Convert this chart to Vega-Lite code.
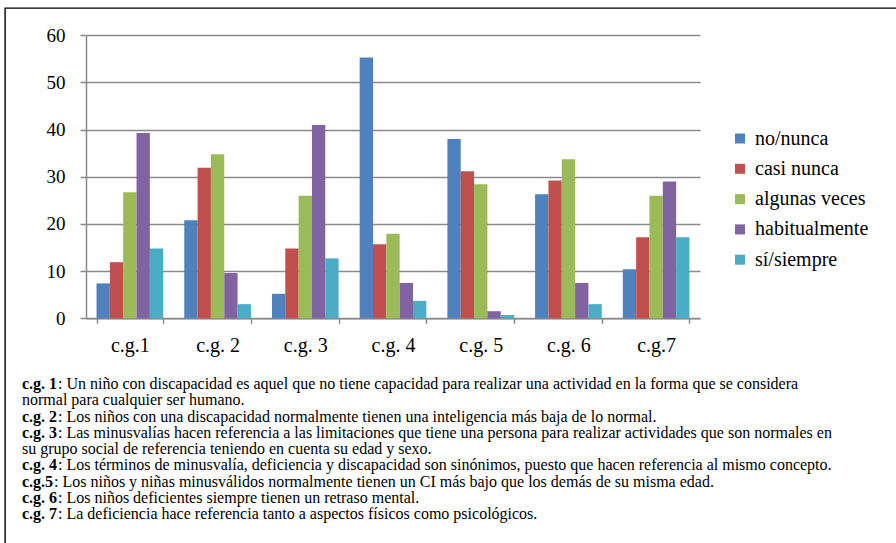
{
  "$schema": "https://vega.github.io/schema/vega-lite/v6.json",
  "width": 891,
  "height": 535,
  "autosize": {"type": "none"},
  "padding": {"left": 5, "top": 8, "right": 0, "bottom": 0},
  "background": "white",
  "config": {
    "view": {"stroke": "black", "strokeWidth": 1.4, "strokeDash": [891, 1426, 535, 20]},
    "font": "Liberation Serif",
    "axis": {"labelFont": "Liberation Serif"},
    "legend": {"labelFont": "Liberation Serif"},
    "text": {"font": "Liberation Serif"}
  },
  "datasets": {
    "bars": [
      {"cg": "c.g.1", "resp": "no/nunca", "value": 7.4},
      {"cg": "c.g.1", "resp": "casi nunca", "value": 11.9},
      {"cg": "c.g.1", "resp": "algunas veces", "value": 26.7},
      {"cg": "c.g.1", "resp": "habitualmente", "value": 39.3},
      {"cg": "c.g.1", "resp": "sí/siempre", "value": 14.8},
      {"cg": "c.g. 2", "resp": "no/nunca", "value": 20.8},
      {"cg": "c.g. 2", "resp": "casi nunca", "value": 31.9},
      {"cg": "c.g. 2", "resp": "algunas veces", "value": 34.8},
      {"cg": "c.g. 2", "resp": "habitualmente", "value": 9.6},
      {"cg": "c.g. 2", "resp": "sí/siempre", "value": 3.0},
      {"cg": "c.g. 3", "resp": "no/nunca", "value": 5.2},
      {"cg": "c.g. 3", "resp": "casi nunca", "value": 14.8},
      {"cg": "c.g. 3", "resp": "algunas veces", "value": 26.0},
      {"cg": "c.g. 3", "resp": "habitualmente", "value": 41.0},
      {"cg": "c.g. 3", "resp": "sí/siempre", "value": 12.7},
      {"cg": "c.g. 4", "resp": "no/nunca", "value": 55.3},
      {"cg": "c.g. 4", "resp": "casi nunca", "value": 15.7},
      {"cg": "c.g. 4", "resp": "algunas veces", "value": 17.9},
      {"cg": "c.g. 4", "resp": "habitualmente", "value": 7.5},
      {"cg": "c.g. 4", "resp": "sí/siempre", "value": 3.7},
      {"cg": "c.g. 5", "resp": "no/nunca", "value": 38.0},
      {"cg": "c.g. 5", "resp": "casi nunca", "value": 31.2},
      {"cg": "c.g. 5", "resp": "algunas veces", "value": 28.4},
      {"cg": "c.g. 5", "resp": "habitualmente", "value": 1.5},
      {"cg": "c.g. 5", "resp": "sí/siempre", "value": 0.7},
      {"cg": "c.g. 6", "resp": "no/nunca", "value": 26.3},
      {"cg": "c.g. 6", "resp": "casi nunca", "value": 29.2},
      {"cg": "c.g. 6", "resp": "algunas veces", "value": 33.7},
      {"cg": "c.g. 6", "resp": "habitualmente", "value": 7.5},
      {"cg": "c.g. 6", "resp": "sí/siempre", "value": 3.0},
      {"cg": "c.g.7", "resp": "no/nunca", "value": 10.4},
      {"cg": "c.g.7", "resp": "casi nunca", "value": 17.2},
      {"cg": "c.g.7", "resp": "algunas veces", "value": 26.0},
      {"cg": "c.g.7", "resp": "habitualmente", "value": 29.0},
      {"cg": "c.g.7", "resp": "sí/siempre", "value": 17.2}
    ],
    "caption": [
      {"line": 1, "prefix": "c.g. 1", "text": ": Un niño con discapacidad es aquel que no tiene capacidad para realizar una actividad en la forma que se considera"},
      {"line": 2, "prefix": "", "text": "normal para cualquier ser humano."},
      {"line": 3, "prefix": "c.g. 2", "text": ": Los niños con una discapacidad normalmente tienen una inteligencia más baja de lo normal."},
      {"line": 4, "prefix": "c.g. 3", "text": ": Las minusvalías hacen referencia a las limitaciones que tiene una persona para realizar actividades que son normales en"},
      {"line": 5, "prefix": "", "text": "su grupo social de referencia teniendo en cuenta su edad y sexo."},
      {"line": 6, "prefix": "c.g. 4", "text": ": Los términos de minusvalía, deficiencia y discapacidad son sinónimos, puesto que hacen referencia al mismo concepto."},
      {"line": 7, "prefix": "c.g.5", "text": ": Los niños y niñas minusválidos normalmente tienen un CI más bajo que los demás de su misma edad."},
      {"line": 8, "prefix": "c.g. 6", "text": ": Los niños deficientes siempre tienen un retraso mental."},
      {"line": 9, "prefix": "c.g. 7", "text": ": La deficiencia hace referencia tanto a aspectos físicos como psicológicos."}
    ]
  },
  "layer": [
    {
      "data": {"name": "bars"},
      "mark": {"type": "bar"},
      "encoding": {
        "x": {
          "field": "cg", "type": "nominal", "sort": null,
          "scale": {"range": [81, 695], "paddingInner": 0.24, "paddingOuter": 0.12},
          "axis": {
            "title": null, "orient": "bottom", "offset": -224.7, "labelAngle": 0,
            "tickBand": "extent", "labelFont": "Liberation Serif", "labelFontSize": 20,
            "labelColor": "black", "labelPadding": 12, "tickSize": 5,
            "tickColor": "#8a8a8a", "tickWidth": 1.5, "domainColor": "#8a8a8a", "domainWidth": 1.5
          }
        },
        "xOffset": {
          "field": "resp", "type": "nominal",
          "sort": ["no/nunca", "casi nunca", "algunas veces", "habitualmente", "sí/siempre"]
        },
        "y": {
          "field": "value", "type": "quantitative",
          "scale": {"domain": [0, 60], "range": [310.3, 27.3], "nice": false, "zero": true},
          "axis": {
            "title": null, "orient": "left", "offset": -81,
            "values": [0, 10, 20, 30, 40, 50, 60],
            "grid": true, "gridColor": "#8a8a8a", "gridWidth": 1.3,
            "labelFont": "Liberation Serif", "labelFontSize": 19, "labelColor": "black",
            "labelPadding": 15, "tickSize": 6, "tickColor": "#8a8a8a", "tickWidth": 1.5,
            "domainColor": "#8a8a8a", "domainWidth": 1.5
          }
        },
        "color": {
          "field": "resp", "type": "nominal",
          "scale": {
            "domain": ["no/nunca", "casi nunca", "algunas veces", "habitualmente", "sí/siempre"],
            "range": ["#4F81BD", "#C0504D", "#9BBB59", "#8064A2", "#4BACC6"]
          },
          "legend": {
            "title": null, "orient": "none", "legendX": 725, "legendY": 120.5,
            "symbolType": "square", "symbolSize": 100, "symbolStrokeWidth": 0,
            "labelFont": "Liberation Serif", "labelFontSize": 20, "labelColor": "black",
            "labelOffset": 5, "rowPadding": 10.3
          }
        }
      }
    },
    {
      "data": {"name": "caption"},
      "encoding": {
        "x": {"datum": 0, "type": "quantitative", "scale": {"domain": [0, 1], "range": [17, 891]}, "axis": null},
        "y": {"field": "line", "type": "ordinal", "scale": {"type": "point", "range": [376, 506], "padding": 0}, "axis": null}
      },
      "layer": [
        {
          "transform": [{"filter": "datum.prefix != ''"}],
          "mark": {"type": "text", "align": "left", "baseline": "middle", "font": "Liberation Serif", "fontSize": 16, "fontWeight": "bold", "color": "black"},
          "encoding": {"text": {"field": "prefix"}}
        },
        {
          "transform": [{"filter": "datum.prefix != '' && datum.prefix != 'c.g.5'"}],
          "mark": {"type": "text", "align": "left", "baseline": "middle", "font": "Liberation Serif", "fontSize": 16, "dx": 36, "color": "black"},
          "encoding": {"text": {"field": "text"}}
        },
        {
          "transform": [{"filter": "datum.prefix == 'c.g.5'"}],
          "mark": {"type": "text", "align": "left", "baseline": "middle", "font": "Liberation Serif", "fontSize": 16, "dx": 32, "color": "black"},
          "encoding": {"text": {"field": "text"}}
        },
        {
          "transform": [{"filter": "datum.prefix == ''"}],
          "mark": {"type": "text", "align": "left", "baseline": "middle", "font": "Liberation Serif", "fontSize": 16, "color": "black"},
          "encoding": {"text": {"field": "text"}}
        }
      ]
    }
  ],
  "resolve": {"scale": {"x": "independent", "y": "independent"}, "axis": {"x": "independent", "y": "independent"}}
}
